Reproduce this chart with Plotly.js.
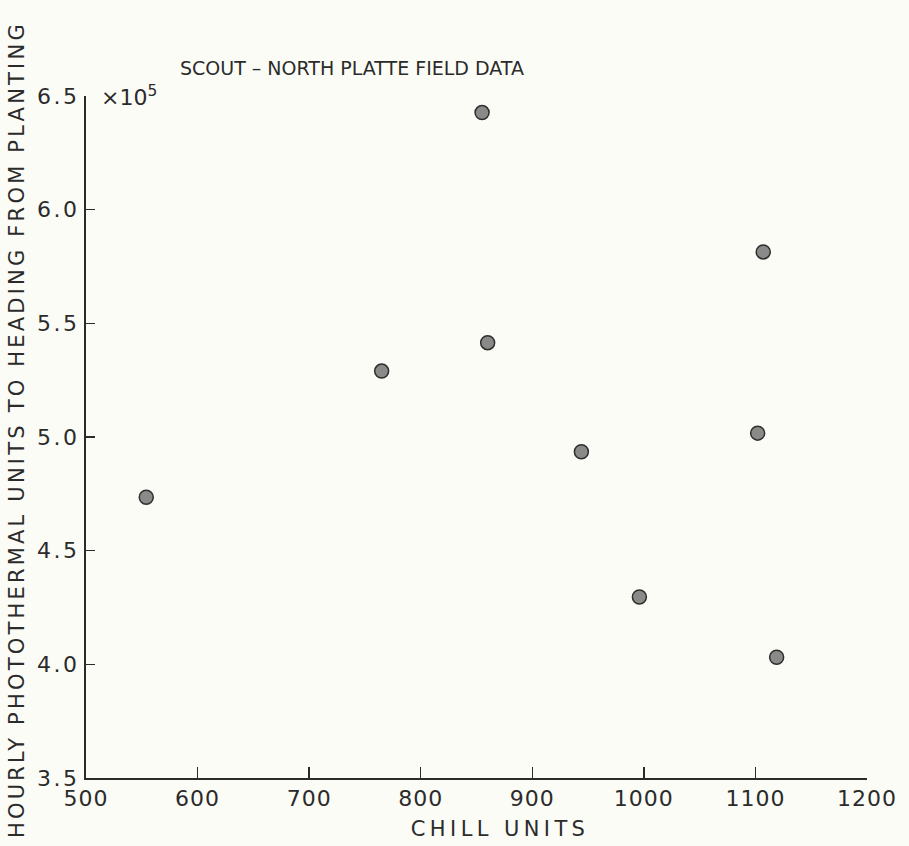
<!DOCTYPE html>
<html>
<head>
<meta charset="utf-8">
<script src="https://cdn.plot.ly/plotly-3.0.1.min.js"></script>
<style>
html,body{margin:0;padding:0;background:#fcfcf7;}
#chart{width:909px;height:846px;}
.xtick text{letter-spacing:1px;}
.ytick text{letter-spacing:2.5px;}
</style>
</head>
<body>
<div id="chart"></div>
<script>
// Chill units (x) and hourly photothermal units to heading (y, x10^5)
const chillUnits = [554, 765, 855, 860, 944, 996, 1102, 1107, 1119];
const photoUnits = [4.735, 5.29, 6.427, 5.415, 4.935, 4.296, 5.017, 5.814, 4.031];

const xTicks = [500, 600, 700, 800, 900, 1000, 1100, 1200];
const xTickLabels = ['500', '600', '700', '800', '900', '1000', '1100', '1200'];
const yTicks = [3.5, 4.0, 4.5, 5.0, 5.5, 6.0, 6.5];
const yTickLabels = ['3.5', '4.0', '4.5', '5.0', '5.5', '6.0', '6.5'];

const titleText = 'SCOUT – NORTH PLATTE FIELD DATA';
const xTitle = 'CHILL UNITS';
const yTitle = 'HOURLY PHOTOTHERMAL UNITS TO HEADING FROM PLANTING';
const scaleText = '×10<sup>5</sup>';

const fontFamily = 'DejaVu Sans, Arial, sans-serif';
const ink = '#2b2b2b';

const trace = {
  x: chillUnits,
  y: photoUnits,
  type: 'scatter',
  mode: 'markers',
  marker: {size: 14, color: '#8a8a88', line: {color: '#2e2e2e', width: 1.5}},
  hoverinfo: 'x+y',
  showlegend: false
};

const layout = {
  width: 909,
  height: 846,
  paper_bgcolor: '#fcfcf7',
  plot_bgcolor: '#fcfcf7',
  margin: {l: 86, r: 42, t: 96, b: 68, pad: 0},
  font: {family: fontFamily, color: ink},
  xaxis: {
    range: [500, 1200],
    tickmode: 'array',
    tickvals: xTicks,
    ticktext: xTickLabels,
    ticks: 'inside',
    ticklen: 11,
    tickwidth: 1.5,
    tickcolor: ink,
    showline: true,
    linecolor: ink,
    linewidth: 2,
    showgrid: false,
    zeroline: false,
    tickfont: {size: 22, family: fontFamily, color: ink}
  },
  yaxis: {
    range: [3.5, 6.5],
    tickmode: 'array',
    tickvals: yTicks,
    ticktext: yTickLabels,
    ticks: 'inside',
    ticklen: 9,
    tickwidth: 1.5,
    tickcolor: ink,
    showline: true,
    linecolor: ink,
    linewidth: 2,
    showgrid: false,
    zeroline: false,
    tickfont: {size: 22, family: fontFamily, color: ink}
  },
  annotations: [
    {
      xref: 'paper', yref: 'paper', x: 0.1178, y: 1.041,
      xanchor: 'left', yanchor: 'middle', showarrow: false,
      text: titleText,
      font: {size: 19, family: fontFamily, color: ink}
    },
    {
      xref: 'paper', yref: 'paper', x: 0.0165, y: 1.0,
      xanchor: 'left', yanchor: 'middle', showarrow: false,
      text: scaleText,
      font: {size: 22, family: fontFamily, color: ink}
    },
    {
      xref: 'paper', yref: 'paper', x: 0.530, y: -0.0748,
      xanchor: 'center', yanchor: 'middle', showarrow: false,
      text: xTitle,
      font: {size: 21, family: fontFamily, color: ink}
    },
    {
      xref: 'paper', yref: 'paper', x: -0.0883, y: 0.5103,
      xanchor: 'center', yanchor: 'middle', showarrow: false,
      textangle: -90,
      text: yTitle,
      font: {size: 21, family: fontFamily, color: ink}
    }
  ]
};

Plotly.newPlot('chart', [trace], layout, {displayModeBar: false, staticPlot: true}).then(function () {
  const spacing = [0, 0, 4.4, 3.2];
  const texts = document.querySelectorAll('.annotation-text');
  texts.forEach(function (t, i) {
    if (spacing[i]) t.style.letterSpacing = spacing[i] + 'px';
  });
});
</script>
</body>
</html>
